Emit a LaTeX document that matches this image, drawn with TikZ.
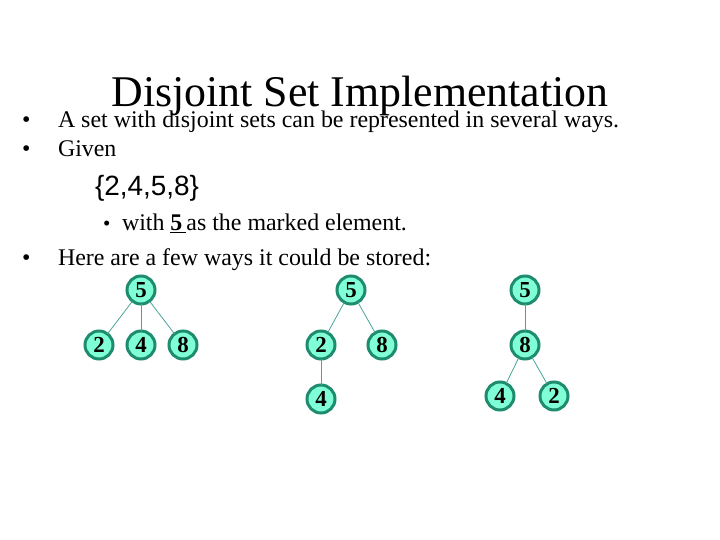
\documentclass[tikz,border=0pt]{standalone}
\usepackage{fontspec}
\setmainfont{Liberation Serif}
\newfontfamily\arialfont{Liberation Sans}
\usepackage{xcolor}
\usetikzlibrary{positioning}

\definecolor{nodefill}{HTML}{80FFD6}
\definecolor{nodeedge}{HTML}{1E8C6E}
\definecolor{linkcol}{HTML}{4AA598}

\begin{document}
\begin{tikzpicture}[
    x=1bp, y=-1bp,
    every node/.style={inner sep=0pt, outer sep=0pt},
    title/.style={font=\fontsize{44}{44}\selectfont, anchor=base},
    body/.style={font=\fontsize{24}{24}\selectfont, anchor=base west},
    elem/.style={circle, minimum size=28bp, fill=nodefill, draw=nodeedge,
                 line width=3bp, font=\fontsize{23}{23}\selectfont\bfseries},
    link/.style={draw=linkcol, line width=0.8bp},
]
\useasboundingbox (0,0) rectangle (720,540);

% =====================================================================
% Text
% =====================================================================
\node[body] (b1) at (22,128) {\textbullet};
\node[body] (l1) at (58,128) {A set with disjoint sets can be represented in several ways.};
\node[title] (ttl) at (360,107) {Disjoint Set Implementation};
\node[body] (b2) at (22,157) {\textbullet};
\node[body] (l2) at (58,157) {Given};
\node[body, font=\arialfont\fontsize{28}{28}\selectfont] (set) at (95,196) {\{2,4,5,8\}};
\node[body, font=\fontsize{21}{21}\selectfont] (b3) at (103,231) {\textbullet};
\node[body] (l3) at (122,231) {with \underline{\textbf{5}\,}as the marked element.};
\node[body] (b4) at (22,266) {\textbullet};
\node[body] (l4) at (58,266) {Here are a few ways it could be stored:};

% =====================================================================
% Tree A: all children under the root
% =====================================================================
\node[elem] (aroot) at (141,290) {5};
\node[elem] (atwo) at (99,345) {2};
\node[elem] (afour) at (141,345) {4};
\node[elem] (aeight) at (183,345) {8};
\draw[link] (aroot) -- (atwo);
\draw[link] (aroot) -- (afour);
\draw[link] (aroot) -- (aeight);

% =====================================================================
% Tree B: 4 hangs below 2
% =====================================================================
\node[elem] (broot) at (351,290) {5};
\node[elem] (btwo) at (321,345) {2};
\node[elem] (beight) at (382,345) {8};
\node[elem] (bfour) at (321,399) {4};
\draw[link] (broot) -- (btwo);
\draw[link] (broot) -- (beight);
\draw[link] (btwo) -- (bfour);

% =====================================================================
% Tree C: a chain through 8
% =====================================================================
\node[elem] (croot) at (525,290) {5};
\node[elem] (ceight) at (525,345) {8};
\node[elem] (cfour) at (500,396) {4};
\node[elem] (ctwo) at (554,396) {2};
\draw[link] (croot) -- (ceight);
\draw[link] (ceight) -- (cfour);
\draw[link] (ceight) -- (ctwo);

\end{tikzpicture}
\end{document}
